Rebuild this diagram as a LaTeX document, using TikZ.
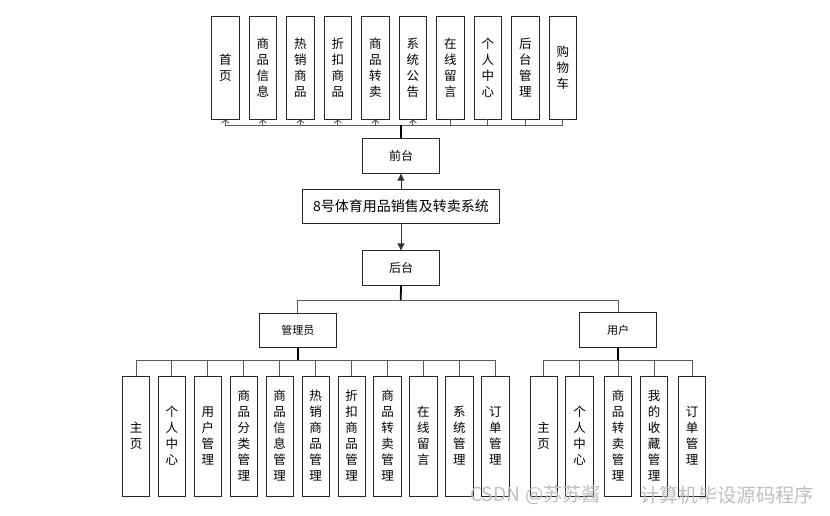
\documentclass[tikz,border=0pt]{standalone}
\usepackage{fontspec}
\setmainfont{Noto Sans CJK SC}
\usetikzlibrary{arrows.meta}
\tikzset{
  box/.style={draw=black!85,line width=0.85pt,fill=white,inner sep=0pt,align=center},
  vbox/.style={box,minimum width=27.3pt,font=\fontsize{12.5}{16}\selectfont},
  hbox/.style={box,minimum width=77pt,minimum height=34.5pt,font=\fontsize{11}{13}\selectfont},
  conn/.style={draw=black!65,line width=0.9pt},
  trunk/.style={draw=black,line width=1.8pt},
  uptip/.style={conn,-{Straight Barb[length=3pt,width=7pt]}},
  mainarrow/.style={draw=black!80,line width=1pt,-{Triangle[length=7pt,width=7pt]}},
  wm/.style={text=black!25,font=\fontsize{19.3}{21}\selectfont,inner sep=0pt,anchor=west}
}
\begin{document}
\begin{tikzpicture}[x=1pt,y=-1pt]
\useasboundingbox (0,0) rectangle (830,515);
% top boxes
\foreach \t [count=\i] in {首\\页,商\\品\\信\\息,热\\销\\商\\品,折\\扣\\商\\品,商\\品\\转\\卖,系\\统\\公\\告,在\\线\\留\\言,个\\人\\中\\心,后\\台\\管\\理,购\\物\\车}{
  \node[vbox,minimum height=103pt] (t\i) at ({225.3+37.5*(\i-1)},67.5) {\t};
  \coordinate (tb\i) at ({225.3+37.5*(\i-1)},125.3);
}
\node[hbox,minimum width=76.3pt,minimum height=35pt,font=\fontsize{12}{14}\selectfont] (front) at (401,155.8) {前台};
\node[box,minimum width=196.6pt,minimum height=34pt,font=\fontsize{14}{16}\selectfont] (main) at (401,206.3) {8号体育用品销售及转卖系统};
\node[hbox,minimum width=76.3pt,minimum height=34.3pt,font=\fontsize{12}{14}\selectfont] (back) at (401,267.9) {后台};
\draw[conn] (tb1) -- (tb10);
\foreach \i in {1,...,6}{\draw[uptip] (tb\i) -- (t\i.south);}
\foreach \i in {7,...,10}{\draw[conn] (tb\i) -- (t\i.south);}
\draw[trunk] (front.north) -- (front.north |- tb1);
\draw[mainarrow] (main.north) -- (front.south);
\draw[mainarrow] (main.south) -- (back.north);
% second level
\node[hbox,minimum width=77.7pt,minimum height=34.4pt] (admin) at (297.9,330.5) {管理员};
\node[hbox] (user) at (618.2,330) {用户};
\coordinate (split) at (400.7,300.7);
\draw[trunk] (back.south) -- (split);
\draw[conn] (admin.north) |- (split) -| (user.north);
% admin children
\foreach \t [count=\i] in {主\\页,个\\人\\中\\心,用\\户\\管\\理,商\\品\\分\\类\\管\\理,商\\品\\信\\息\\管\\理,热\\销\\商\\品\\管\\理,折\\扣\\商\\品\\管\\理,商\\品\\转\\卖\\管\\理,在\\线\\留\\言,系\\统\\管\\理,订\\单\\管\\理}{
  \node[vbox,minimum height=120pt] (a\i) at ({136+35.93*(\i-1)},436) {\t};
  \coordinate (ab\i) at ({136+35.93*(\i-1)},360.3);
  \draw[conn] (ab\i) -- (a\i.north);
}
\draw[conn] (ab1) -- (ab11);
\draw[trunk] (admin.south) -- (admin.south |- ab1);
% user children
\foreach \t/\x [count=\i] in {主\\页/543.7,个\\人\\中\\心/579.5,商\\品\\转\\卖\\管\\理/618,我\\的\\收\\藏\\管\\理/654,订\\单\\管\\理/692}{
  \node[vbox,minimum height=120pt] (u\i) at (\x,436) {\t};
  \coordinate (ub\i) at (\x,360.3);
  \draw[conn] (ub\i) -- (u\i.north);
}
\draw[conn] (ub1) -- (ub5);
\draw[trunk] (user.south) -- (user.south |- ub1);
% watermark
\node[wm] (wm1) at (470,495) {CSDN @苏苏酱};
\node[wm] (wm2) at (640,495) {计算机毕设源码程序};
\end{tikzpicture}
\end{document}
